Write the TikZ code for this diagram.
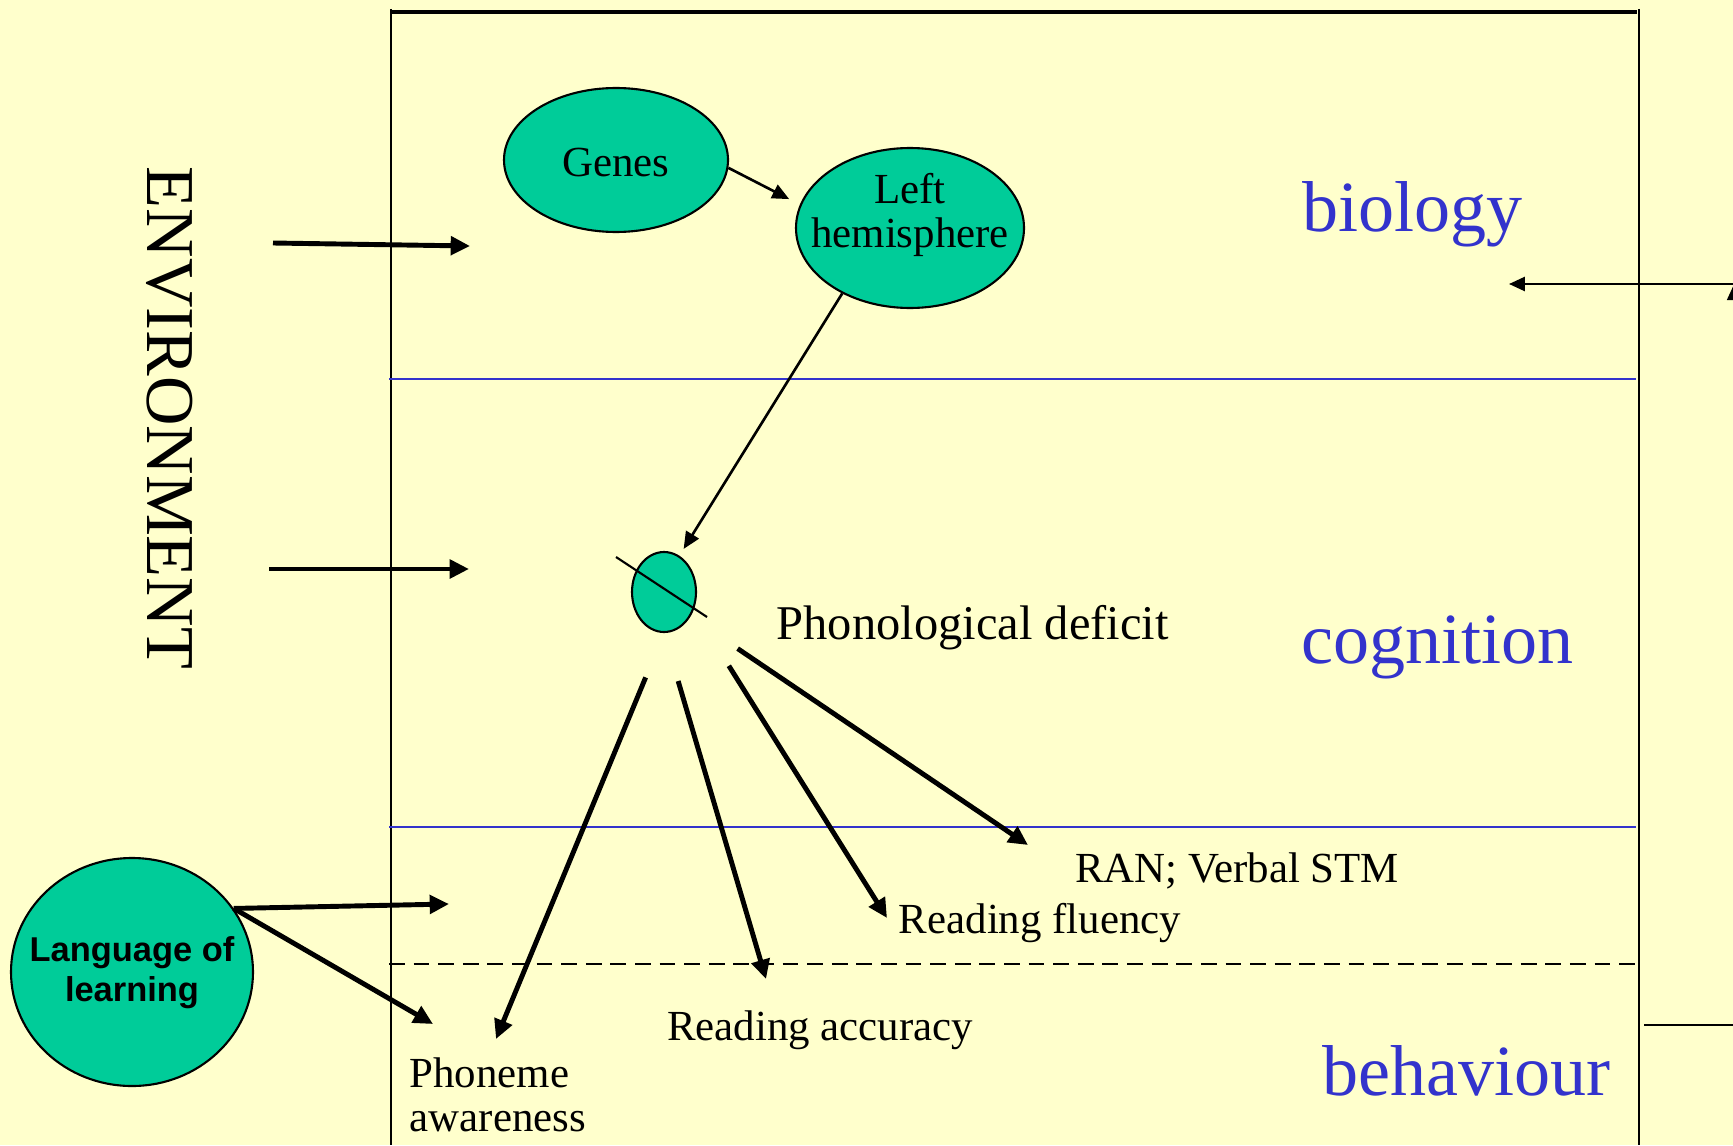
\documentclass[tikz,border=0pt]{standalone}
\usepackage{fontspec}
\setmainfont{Liberation Serif}
\newfontfamily\lolfont{Liberation Sans}
\usetikzlibrary{arrows.meta,shapes.geometric}
\definecolor{paper}{RGB}{255,255,204}
\definecolor{blobgreen}{RGB}{0,204,153}
\definecolor{zoneblue}{RGB}{51,51,204}
\tikzset{
	blob/.style={draw=black, line width=0.6pt, fill=blobgreen, ellipse, inner sep=0pt, align=center, font=\fontsize{12.2}{12.6}\selectfont},
	lbl/.style={inner sep=0pt, align=center, font=\fontsize{12.2}{12.6}\selectfont},
	zone/.style={inner sep=0pt, anchor=base west, text=zoneblue, font=\fontsize{20.5}{24}\selectfont},
	fatarrow/.style={line width=1.4pt, -{Triangle[length=5.5pt,width=5.2pt]}},
	thinarrow/.style={line width=0.75pt, -{Triangle[length=4.8pt,width=4.2pt]}}
}

\begin{document}
\begin{tikzpicture}
			%%%%% START %%%%%
			\useasboundingbox (0,0) rectangle (17.33,11.45);
			\clip (0,0) rectangle (17.33,11.45);
			\fill[paper] (0,0) rectangle (17.33,11.45);
			
			\draw[line width=0.45pt] (3.91,11.36) -- (3.91,0);
			\draw[line width=0.6pt] (16.39,11.36) -- (16.39,0);
			\draw[line width=0.9pt] (3.91,11.33) -- (16.37,11.33);
			\draw[line width=0.45pt, zoneblue] (3.89,7.66) -- (16.36,7.66);
			\draw[line width=0.45pt, zoneblue] (3.89,3.18) -- (16.36,3.18);
			\draw[line width=0.45pt, dash pattern=on 4.5pt off 2.5pt] (3.89,1.81) -- (16.43,1.81);
			
			\node[blob, minimum width=2.24cm, minimum height=1.44cm] (genes) at (6.16,9.85) {};
			\node[lbl] (genestxt) at (6.16,9.82) {Genes};
			\node[blob, minimum width=2.28cm, minimum height=1.60cm] (lefthem) at (9.10,9.17) {};
			\node[lbl] (lefthemtxt) at (9.10,9.30) {Left\\hemisphere};
			\node[blob, minimum width=0.64cm, minimum height=0.80cm] (phon) at (6.64,5.53) {};
			\draw[line width=0.6pt] (phon.center) ++(-0.48,0.35) -- ++(0.91,-0.60);
			\node[blob, minimum width=2.42cm, minimum height=2.28cm] (lol) at (1.32,1.73) {};
			\node[lbl, font=\lolfont\bfseries\fontsize{9.8}{11.4}\selectfont] (loltxt) at (1.32,1.72) {Language of\\learning};
			
			\node[lbl, anchor=west, font=\fontsize{13.8}{16}\selectfont] (phondef) at (7.76,5.17) {Phonological deficit};
			\node[lbl] (ran) at (12.37,2.74) {RAN; Verbal STM};
			\node[lbl] (fluency) at (10.40,2.22) {Reading fluency};
			\node[lbl] (accuracy) at (8.20,1.15) {Reading accuracy};
			\node[lbl, anchor=west, align=left] (phoneme) at (4.09,0.50) {Phoneme\\awareness};
			
			\node[zone] (biology) at (13.02,9.13) {biology};
			\node[zone] (cognition) at (13.01,4.82) {cognition};
			\node[zone] (behaviour) at (13.22,0.50) {behaviour};
			\node[inner sep=0pt, rotate=-90, font=\fontsize{19.5}{22}\selectfont] (env) at (1.70,7.27) {ENVIRONMENT};
			
			\coordinate (envtopS) at (2.73,9.02);
			\coordinate (envtopE) at (4.70,8.99);
			\coordinate (envmidS) at (2.69,5.76);
			\coordinate (envmidE) at (4.69,5.76);
			\coordinate (lolA) at (4.49,2.41);
			\coordinate (lolB) at (4.33,1.21);
			\coordinate (tipPA) at (4.96,1.06);
			\coordinate (tipRA) at (7.66,1.66);
			\coordinate (tipRF) at (8.87,2.27);
			\coordinate (tipRAN) at (10.28,3.00);
			\coordinate (fbS) at (17.40,8.61);
			\coordinate (fbE) at (15.09,8.61);
			\coordinate (loopA) at (16.44,1.20);
			\coordinate (loopB) at (17.36,1.20);
			\coordinate (loopC) at (17.36,8.65);
			
			\draw[fatarrow] (envtopS) -- (envtopE);
			\draw[fatarrow] (envmidS) -- (envmidE);
			\draw[fatarrow] (lol.32) -- (lolA);
			\draw[fatarrow] (lol.32) -- (lolB);
			
			\draw[thinarrow, shorten >=1.2mm] (genes.-4) -- (lefthem.168);
			\draw[thinarrow, shorten >=0.8mm] (lefthem.224) -- (phon.67);
			
			\draw[fatarrow, shorten <=4.8mm] (phon.south) -- (tipPA);
			\draw[fatarrow, shorten <=5mm] (phon.south) -- (tipRA);
			\draw[fatarrow, shorten <=6.6mm] (phon.329) -- (tipRF);
			\draw[fatarrow, shorten <=5.7mm] (phon.317) -- (tipRAN);
			
			\draw[line width=0.6pt, -{Triangle[length=4.5pt,width=4pt]}] (fbS) -- (fbE);
			\draw[line width=0.6pt, -{Triangle[length=5.7pt,width=5.1pt]}] (loopA) -- (loopB) -- (loopC);
			%%%%% END %%%%%
\end{tikzpicture}
\end{document}
